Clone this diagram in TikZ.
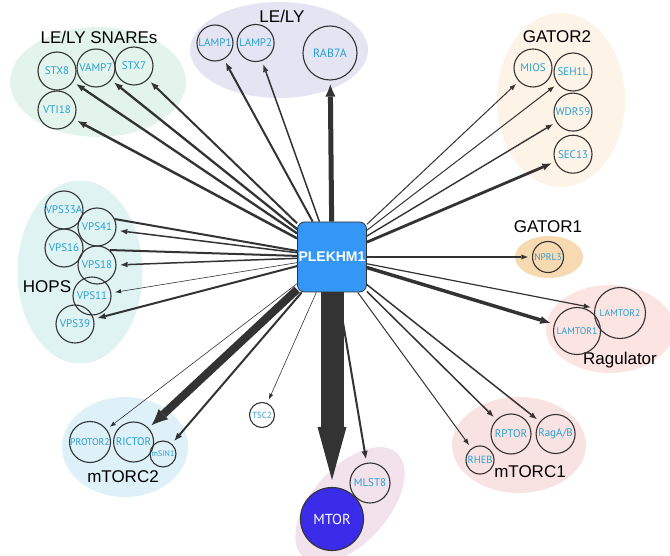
\documentclass[tikz,border=0pt]{standalone}
\usepackage{fontspec}
\setmainfont{Liberation Sans}
\newfontfamily\protfont{PT Sans}
\usepackage{xcolor}
\usetikzlibrary{%
  arrows.meta, shapes.geometric, backgrounds, positioning
}
\pgfdeclarelayer{groups}
\pgfsetlayers{groups,background,main}

\definecolor{edgegray}{HTML}{333333}
\definecolor{protblue}{HTML}{28A0D2}
\definecolor{hubblue}{HTML}{3496F5}
\definecolor{mtorblue}{HTML}{3A2CE8}
\definecolor{cSnare}{HTML}{E2F4EC}
\definecolor{cLely}{HTML}{E4E4F2}
\definecolor{cGatorA}{HTML}{FDF3E6}
\definecolor{cGatorB}{HTML}{F8DAB2}
\definecolor{cRag}{HTML}{FBE4E2}
\definecolor{cTorcA}{HTML}{F9E2E2}
\definecolor{cTorcB}{HTML}{DEF0F8}
\definecolor{cHops}{HTML}{E0F3F3}
\definecolor{cMtor}{HTML}{F2E2EC}

\tikzstyle{prot} = [%
  circle,
  draw=edgegray,
  line width=1.1pt,
  fill=none,
  minimum size=38pt,
  inner sep=0pt,
  text=protblue,
  font=\protfont\fontsize{11}{13}\selectfont
]
\tikzstyle{hub} = [%
  rectangle,
  rounded corners=7pt,
  draw=edgegray,
  line width=0.8pt,
  fill=hubblue,
  minimum width=69pt,
  minimum height=70pt,
  inner sep=0pt,
  text=white,
  font=\bfseries\fontsize{14}{16}\selectfont
]
\tikzstyle{grp} = [%
  ellipse,
  draw=none,
  inner sep=0pt
]
\tikzstyle{glabel} = [%
  inner sep=0pt,
  text=black,
  font=\fontsize{17}{20}\selectfont
]

\begin{document}
\begin{tikzpicture}[%
  x=1pt, y=1pt,
  ppi/.style={%
    draw=edgegray,
    -{Latex[length=5pt 1.4, width=3.5pt 1.3, line width=0pt]},
    shorten >=4pt
  },
  ppiline/.style={draw=edgegray},
  fs/.style={font=\protfont\fontsize{#1}{#1}\selectfont}
]
  \useasboundingbox (0,0) rectangle (670,-556);

  % Groups
  \begin{pgfonlayer}{groups}
    \node[grp,fill=cSnare,minimum width=176pt,minimum height=110pt] (G_SNARE) at (98,-82) {};
    \node[grp,fill=cLely,minimum width=178pt,minimum height=96pt] (G_LELY) at (279,-50) {};
    \node[grp,fill=cGatorA,minimum width=128pt,minimum height=174pt] (G_GATOR2) at (561,-100) {};
    \node[grp,fill=cGatorB,minimum width=68pt,minimum height=42pt] (G_GATOR1) at (549,-257) {};
    \node[grp,fill=cRag,minimum width=128pt,minimum height=88pt] (G_RAG) at (610,-329) {};
    \node[grp,fill=cTorcA,minimum width=134pt,minimum height=96pt] (G_TORC1) at (519,-445) {};
    \node[grp,fill=cTorcB,minimum width=126pt,minimum height=100pt] (G_TORC2) at (125,-447) {};
    \node[grp,fill=cHops,minimum width=125pt,minimum height=183pt] (G_HOPS) at (80,-272) {};
    \node[grp,fill=cMtor,minimum width=140pt,minimum height=76pt,rotate=48] (G_MTOR) at (350,-505) {};
  \end{pgfonlayer}

  % Group labels
  \node[glabel] (L_SNARE) at (99,-37) {LE/LY SNAREs};
  \node[glabel] (L_LELY) at (282,-16) {LE/LY};
  \node[glabel] (L_GATOR2) at (557,-37) {GATOR2};
  \node[glabel] (L_GATOR1) at (548,-227) {GATOR1};
  \node[glabel] (L_RAG) at (620,-360) {Ragulator};
  \node[glabel] (L_TORC1) at (530,-472) {mTORC1};
  \node[glabel] (L_TORC2) at (123,-477) {mTORC2};
  \node[glabel] (L_HOPS) at (47,-287) {HOPS};

  % Nodes
  \node[hub] (P1) at (332,-257) {PLEKHM1};

  \node[prot] (STX8) at (57,-71) {STX8};
  \node[prot] (VAMP7) at (96,-68) {VAMP7};
  \node[prot] (STX7) at (134,-66) {STX7};
  \node[prot] (VTI18) at (57,-110) {VTI18};

  \node[prot,minimum size=36pt] (LAMP1) at (215,-43) {LAMP1};
  \node[prot,minimum size=37pt,right=3pt of LAMP1] (LAMP2) {LAMP2};
  \node[prot,minimum size=54pt,fs=12] (RAB7A) at (330,-53) {RAB7A};

  \node[prot] (MIOS) at (533,-68) {MIOS};
  \node[prot] (SEH1L) at (573,-72) {SEH1L};
  \node[prot,below=1pt of SEH1L] (WDR59) {WDR59};
  \node[prot,below=3pt of WDR59] (SEC13) {SEC13};

  \node[prot,minimum size=31pt,fs=9.5] (NPRL3) at (548,-257) {NPRL3};

  \node[prot,minimum size=47pt,fs=9.6] (LAMTOR1) at (577,-331) {LAMTOR1};
  \node[prot,minimum size=51pt,fs=9.6] (LAMTOR2) at (620,-313) {LAMTOR2};

  \node[prot,minimum size=40pt] (RPTOR) at (511,-434) {RPTOR};
  \node[prot,minimum size=39pt,right=4pt of RPTOR] (RAGAB) {RagA/B};
  \node[prot,minimum size=28pt,fs=10.4] (RHEB) at (480,-460) {RHEB};

  \node[prot,minimum size=41pt,fs=9.7] (PROTOR2) at (90,-442) {PROTOR2};
  \node[prot,minimum size=40pt,right=2pt of PROTOR2] (RICTOR) {RICTOR};
  \node[prot,minimum size=26pt,fs=8] (mSIN1) at (163,-454) {mSIN1};
  \node[prot,minimum size=25pt,fs=8.8] (TSC2) at (262,-415) {TSC2};

  \node[prot,minimum size=63pt,fill=mtorblue,text=white,fs=14.5] (MTOR) at (332,-519) {MTOR};
  \node[prot,minimum size=40pt] (MLST8) at (370,-483) {MLST8};

  \node[prot] (VPS33A) at (64,-210) {VPS33A};
  \node[prot] (VPS41) at (97,-227) {VPS41};
  \node[prot] (VPS16) at (64,-248) {VPS16};
  \node[prot] (VPS18) at (97,-265) {VPS18};
  \node[prot] (VPS11) at (92,-296) {VPS11};
  \node[prot] (VPS39) at (75,-324) {VPS39};

  % Edges
  \begin{scope}[on background layer]
    \draw[ppi,line width=2.3pt] (P1) -- (STX8);
    \draw[ppi,line width=2.3pt] (P1) -- (VAMP7);
    \draw[ppi,line width=2pt] (P1) -- (STX7);
    \draw[ppi,line width=2.5pt] (P1) -- (VTI18);
    \draw[ppi,line width=2pt] (P1) -- (LAMP1);
    \draw[ppi,line width=1.5pt] (P1) -- (LAMP2);
    \draw[ppi,line width=5pt] (P1) -- (RAB7A);
    \draw[ppi,line width=1pt] (P1) -- (MIOS);
    \draw[ppi,line width=1pt] (P1) -- (SEH1L);
    \draw[ppi,line width=1.4pt] (P1) -- (WDR59);
    \draw[ppi,line width=2.8pt] (P1) -- (SEC13);
    \draw[ppi,line width=1.2pt] (P1) -- (NPRL3);
    \draw[ppi,line width=1.2pt] (P1) -- (LAMTOR2);
    \draw[ppi,line width=3.5pt] (P1) -- (LAMTOR1);
    \draw[ppi,line width=1.5pt] (P1) -- (RAGAB);
    \draw[ppi,line width=1.5pt] (P1) -- (RPTOR);
    \draw[ppi,line width=1pt] (P1) -- (RHEB);
    \draw[ppi,line width=2pt] (P1) -- (MLST8);
    \draw[ppi,line width=23pt,-{Triangle[length=53pt,width=29pt,line width=0pt]},shorten >=7pt] (P1) -- (MTOR);
    \draw[ppi,line width=0.6pt] (P1) -- (TSC2);
    \draw[ppi,line width=2pt] (P1) -- (mSIN1);
    \draw[ppi,line width=8pt] (P1) -- (RICTOR);
    \draw[ppi,line width=0.6pt] (P1) -- (PROTOR2);
    \draw[ppi,line width=2pt] (P1) -- (VPS39);
    \draw[ppi,line width=0.6pt] (P1) -- (VPS11);
    \draw[ppi,line width=1.5pt] (P1) -- (VPS18.east);
    \draw[ppi,line width=1.5pt] (P1) -- (VPS41.-10);
    \draw[ppiline,line width=2pt] (VPS18.50) -- (P1);
    \draw[ppiline,line width=2pt] (VPS41.24) -- (P1);
  \end{scope}

\end{tikzpicture}
\end{document}
